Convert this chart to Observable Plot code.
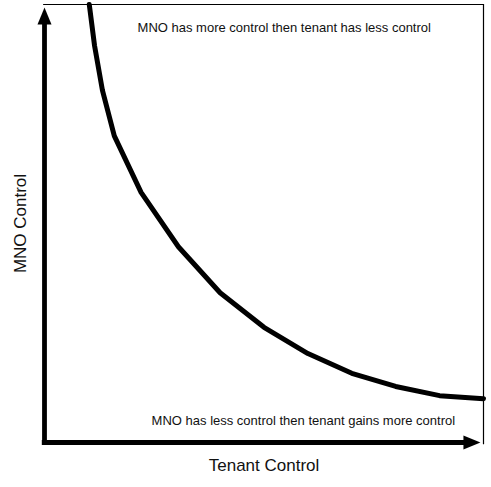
<!DOCTYPE html>
<html>
<head>
<meta charset="utf-8">
<script src="https://cdn.jsdelivr.net/npm/d3@7"></script>
<script src="https://cdn.jsdelivr.net/npm/@observablehq/plot@0.6"></script>
<style>
  html, body { margin: 0; padding: 0; background: #fff; }
  #chart svg { display: block; }
</style>
</head>
<body>
<div id="chart"></div>
<script>
// Curve: tenant control (x) vs MNO control (y)
const tenantControl = [1.02, 1.14, 1.32, 1.59, 2.2, 3.05, 4, 5, 6, 7, 8, 9, 10];
const mnoControl    = [10, 9.06, 8.04, 7.0, 5.71, 4.47, 3.42, 2.63, 2.03, 1.58, 1.28, 1.07, 1.0];

const xLabel = "Tenant Control";
const yLabel = "MNO Control";
const annotations = [
  {x: 2.12, y: 9.47, text: "MNO has more control then tenant has less control"},
  {x: 2.44, y: 0.5,  text: "MNO has less control then tenant gains more control"}
];

const curve = tenantControl.map((x, i) => ({x, y: mnoControl[i]}));

// filled arrowhead symbol, tip at origin, pointing up
const arrowHead = {
  draw(context, size) {
    context.moveTo(0, 0);
    context.lineTo(7, 17);
    context.lineTo(-7, 17);
    context.closePath();
  }
};

const font = "'Liberation Sans', Arial, Helvetica, sans-serif";

const chart = Plot.plot({
  width: 491,
  height: 487,
  marginLeft: 44,
  marginRight: 8,
  marginTop: 4,
  marginBottom: 45,
  x: {domain: [0, 10], axis: null},
  y: {domain: [0, 10], axis: null},
  style: {fontFamily: font, background: "#fff", overflow: "visible"},
  marks: [
    // thin frame top and right
    Plot.ruleY([10], {x1: -0.02, x2: 10, stroke: "#000", strokeWidth: 1.2}),
    Plot.ruleX([10], {y1: -0.05, y2: 10, stroke: "#000", strokeWidth: 1.2}),
    // thick axes
    Plot.ruleX([0], {y1: -0.06, y2: 9.6, stroke: "#000", strokeWidth: 4.8}),
    Plot.ruleY([0], {x1: -0.05, x2: 9.6, stroke: "#000", strokeWidth: 4.8}),
    Plot.dot([{x: 0, y: 9.93}], {x: "x", y: "y", symbol: arrowHead, fill: "#000", stroke: null, r: 5, rotate: 0}),
    Plot.dot([{x: 9.93, y: 0}], {x: "x", y: "y", symbol: arrowHead, fill: "#000", stroke: null, r: 5, rotate: 90}),
    // curve
    Plot.line(curve, {x: "x", y: "y", stroke: "#000", strokeWidth: 5, strokeLinejoin: "round", curve: "linear"}),
    // annotations
    Plot.text(annotations, {x: "x", y: "y", text: "text", textAnchor: "start", fontSize: 13, fill: "#111"}),
    // axis labels
    Plot.text([yLabel], {frameAnchor: "left", textAnchor: "middle", dx: -24, rotate: -90, fontSize: 17, fill: "#111"}),
    Plot.text([xLabel], {frameAnchor: "bottom", dy: 28, fontSize: 17, fill: "#111"})
  ]
});

document.getElementById("chart").appendChild(chart);
</script>
</body>
</html>
